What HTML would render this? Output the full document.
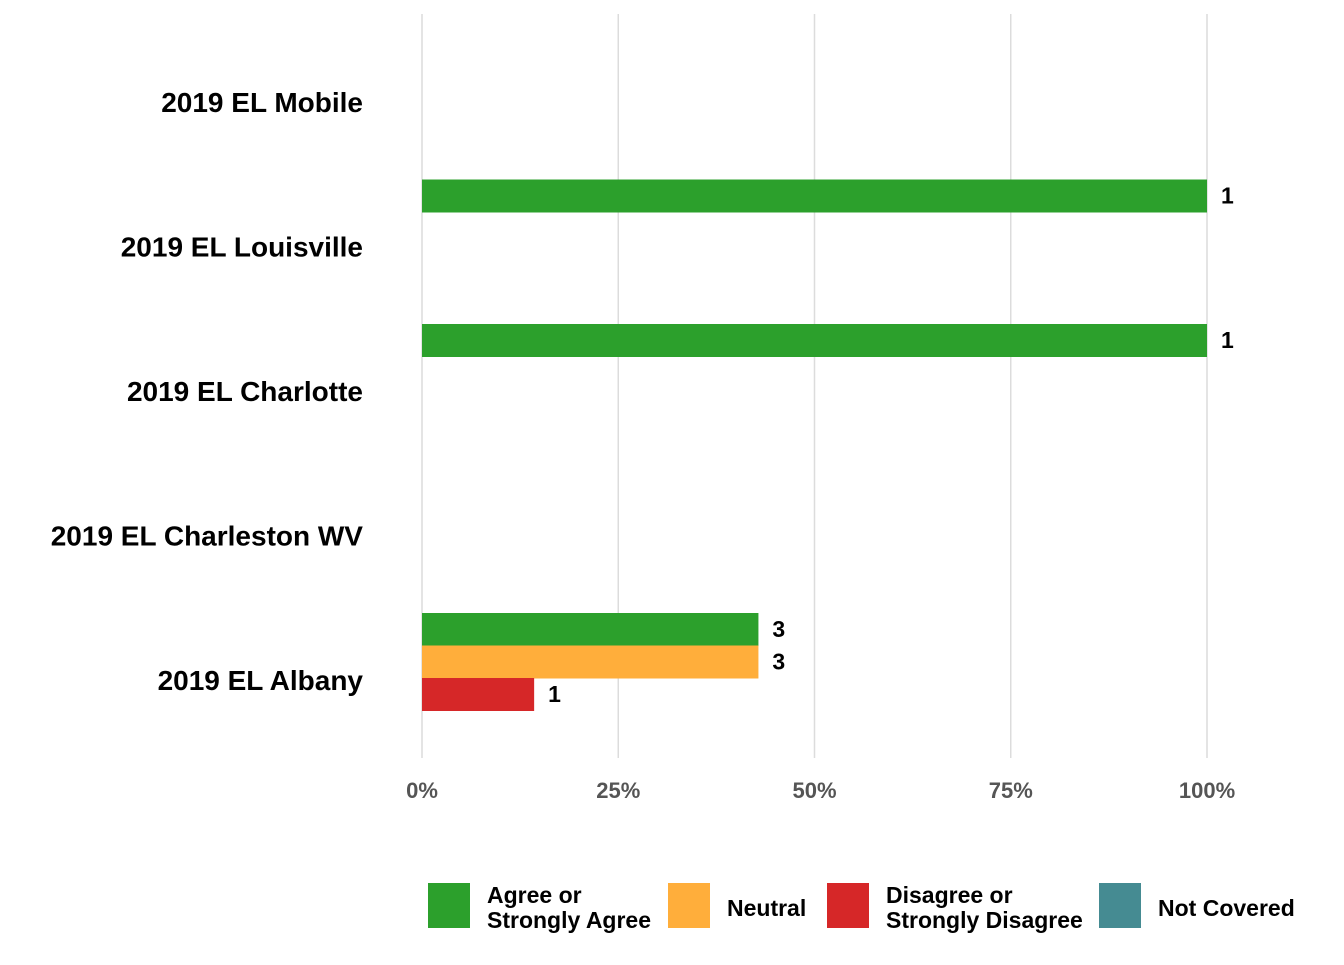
<!DOCTYPE html>
<html><head><meta charset="utf-8"><style>
body{margin:0;background:#fff;width:1344px;height:960px;overflow:hidden;font-family:"Liberation Sans",sans-serif}
</style></head><body>
<svg id="chart" width="1344" height="960" xmlns="http://www.w3.org/2000/svg"></svg>
<script>
const categories=["2019 EL Mobile","2019 EL Louisville","2019 EL Charlotte","2019 EL Charleston WV","2019 EL Albany"];
const seriesNames=["Agree or Strongly Agree","Neutral","Disagree or Strongly Disagree","Not Covered"];
const agree=[0,1,1,0,3];
const neutral=[0,0,0,0,3];
const disagree=[0,0,0,0,1];
const notCovered=[0,0,0,0,0];
const tickValues=[0,0.25,0.5,0.75,1];
const tickLabels=["0%","25%","50%","75%","100%"];
const colors=["#2ca02c","#ffae3b","#d62728","#458b92"];
const NS="http://www.w3.org/2000/svg";
const svg=document.getElementById('chart');
const x=v=>422+v*785;
const yc=i=>102+i*144.5;
function mk(t,a){const e=document.createElementNS(NS,t);for(const k in a)e.setAttribute(k,a[k]);svg.appendChild(e);return e;}
tickValues.forEach((v,i)=>{
 const g=mk('line',{x1:x(v),x2:x(v),y1:14,y2:758,stroke:'#dcdcdc','stroke-width':1.5});
 
 
 const t=mk('text',{x:x(v),y:798,'text-anchor':'middle','font-size':22,'font-weight':'bold',fill:'#555'});
 t.textContent=tickLabels[i];
 
 
});
categories.forEach((c,i)=>{
 const t=mk('text',{x:363,y:yc(i)+10,'text-anchor':'end','font-size':28,'font-weight':'bold',fill:'#000'});
 t.textContent=c;
 
 
 const vals=[agree[i],neutral[i],disagree[i],notCovered[i]];
 const tot=vals.reduce((a,b)=>a+b,0);
 if(!tot)return;
 vals.forEach((v,s)=>{
  if(!v)return;
  const top=yc(i)-67+s*32.5;
  const r=mk('rect',{x:x(0),y:top,width:x(v/tot)-x(0),height:33,fill:colors[s]});
  
  
  const l=mk('text',{x:x(v/tot)+14,y:top+24,'font-size':23,'font-weight':'bold',fill:'#000'});
  l.textContent=v;
  
  
 });
});
const legX=[428,668,827,1099];
const legLines=[["Agree or","Strongly Agree"],["Neutral"],["Disagree or","Strongly Disagree"],["Not Covered"]];
legLines.forEach((ls,s)=>{
 const r=mk('rect',{x:legX[s],y:883,width:42,height:45,fill:colors[s]});
 
 
 ls.forEach((ln,j)=>{
  const y=ls.length==1?916:903+j*25;
  const t=mk('text',{x:legX[s]+59,y:y,'font-size':23,'font-weight':'bold',fill:'#000'});
  t.textContent=ln;
  
  
 });
});
</script>
</body></html>
